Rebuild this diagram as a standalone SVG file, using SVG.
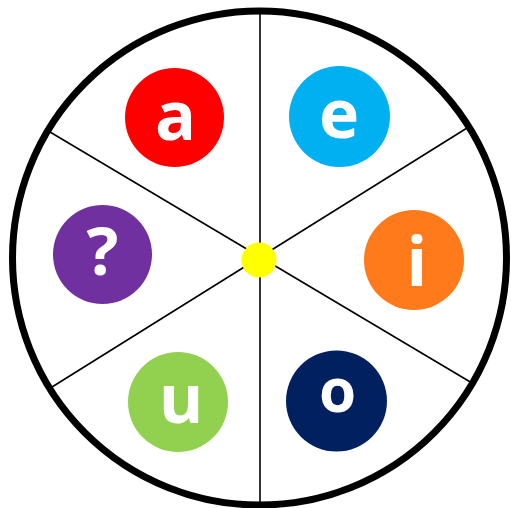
<svg xmlns="http://www.w3.org/2000/svg" width="511" height="508" viewBox="0 0 511 508">
<style>
.spoke{stroke:#000;stroke-width:1.6;fill:none}
.lbl{fill:#fff;font-family:"Open Sans","Liberation Sans",sans-serif;font-weight:bold;text-anchor:middle}
</style>
<rect width="511" height="508" fill="#fff"/>
<circle cx="259.5" cy="258" r="247" fill="#fff" stroke="#000" stroke-width="7"/>
<g id="connectors">
<line class="spoke" x1="260" y1="12" x2="260" y2="504"/>
<line class="spoke" x1="50" y1="132" x2="472" y2="383"/>
<line class="spoke" x1="52" y1="387" x2="467" y2="128"/>
</g>
<g id="hub"><circle cx="259" cy="260" r="17.5" fill="#ffff00"/></g>
<g id="node-a"><circle cx="174.5" cy="117.5" r="49.5" fill="#ff0000"/><text class="lbl" x="175.5" y="140" font-size="68">a</text></g>
<g id="node-e"><circle cx="339.5" cy="116.5" r="50.5" fill="#00b0f0"/><text class="lbl" x="339" y="138" font-size="68">e</text></g>
<g id="node-q"><circle cx="102.5" cy="254.5" r="49.5" fill="#7030a0"/><text class="lbl" x="102.5" y="275" font-size="67">?</text></g>
<g id="node-i"><circle cx="414" cy="260" r="50" fill="#ff7a1a"/><text class="lbl" x="417" y="286" font-size="68">i</text></g>
<g id="node-u"><circle cx="178" cy="402" r="50" fill="#92d050"/><text class="lbl" x="181" y="423" font-size="68">u</text></g>
<g id="node-o"><circle cx="336.5" cy="401" r="50.5" fill="#002060"/><text class="lbl" x="337.5" y="412" font-size="60">o</text></g>
</svg>
